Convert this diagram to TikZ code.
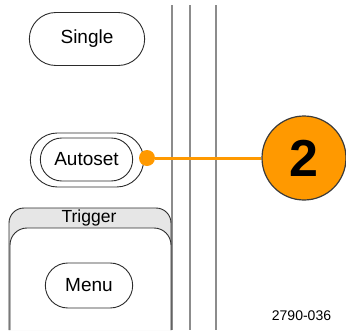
\documentclass[tikz,border=0pt]{standalone}
\usepackage{fontspec}
\setmainfont{Liberation Sans}
\usepackage{tikz}
\usetikzlibrary{
arrows.meta,
positioning,
shapes.misc
}
\definecolor{TEKInk}{HTML}{2B2B2B}
\definecolor{TEKRail}{HTML}{8C8C8C}
\definecolor{TEKTab}{HTML}{E6E6E6}
\definecolor{TEKOrange}{HTML}{FF9900}
\definecolor{TEKRim}{HTML}{3A3A3A}
\tikzset{
tekbtn/.style={draw=TEKInk, line width=0.9pt, rounded rectangle, fill=white,
  font=\fontsize{19}{21}\selectfont},
tekrail/.style={draw=TEKRail, line width=1.8pt},
tekpanel/.style={draw=TEKInk, line width=0.9pt, rounded corners=15pt},
tekdot/.style={circle, fill=TEKOrange, minimum size=16pt, inner sep=0pt},
tekcallout/.style={circle, draw=TEKRim, line width=1.2pt, fill=TEKOrange,
  minimum size=84pt, inner sep=0pt, font=\fontsize{52}{56}\bfseries\selectfont},
tekline/.style={draw=TEKOrange, line width=3pt},
teklabel/.style={font=\fontsize{17.5}{20}\selectfont, inner sep=0pt},
tekcode/.style={font=\fontsize{14}{16}\selectfont, inner sep=0pt}
}
\begin{document}
\begin{tikzpicture}[x=1pt, y=-1pt]
\useasboundingbox (0,0) rectangle (346,330);
\foreach \xr in {172,190,216}
  \draw[tekrail] (\xr,5) -- (\xr,330);

\node[tekbtn, minimum width=122pt, minimum height=53pt] (single) at (87,39) {Single};

\node[tekbtn, minimum width=120pt, minimum height=54pt] (autosetframe) at (87,160) {};
\node[tekbtn, minimum width=99pt, minimum height=43pt] (autoset) at (86.5,159.5) {Autoset};

\draw[tekpanel, fill=TEKTab] (9,330) -- (9,208) -- (171,208) -- (171,330);
\node[teklabel] (trigger) at (89,217.5) {Trigger};
\draw[tekpanel, rounded corners=17pt, fill=white] (10,330) -- (10,228) -- (171,228) -- (171,330);
\node[tekbtn, minimum width=94pt, minimum height=45pt] (menu) at (89,285.5) {Menu};

\node[tekdot] (dot) at (147,158) {};
\node[tekcallout] (num) at (304,158) {2};
\draw[tekline] (dot) -- (num);

\node[tekcode] (code) at (301.5,315.5) {2790-036};
\end{tikzpicture}
\end{document}
